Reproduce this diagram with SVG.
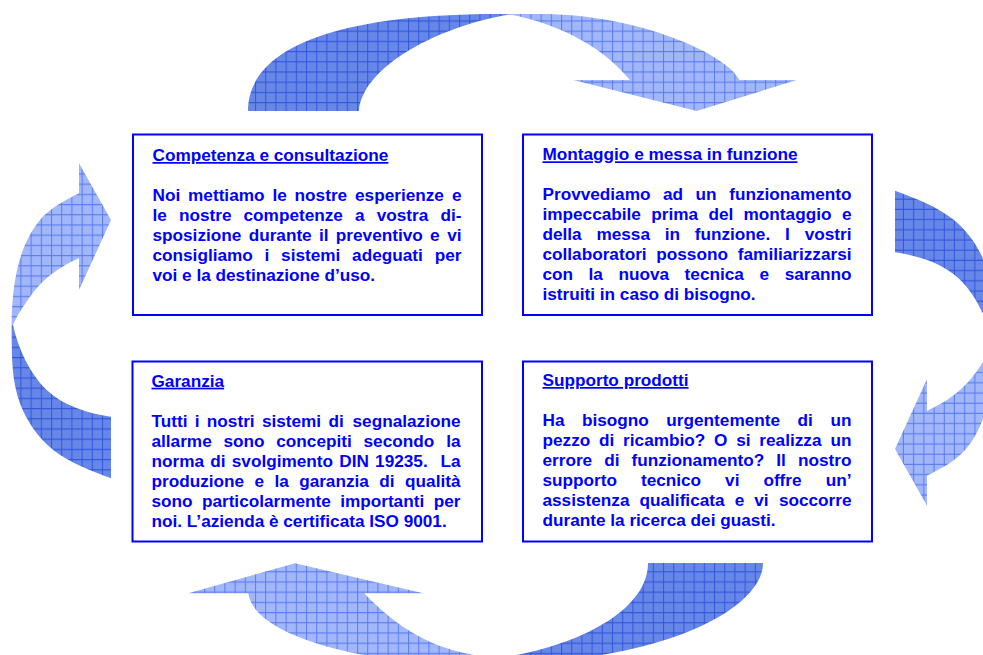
<svg xmlns="http://www.w3.org/2000/svg" width="983" height="655" viewBox="0 0 983 655">
<defs>
<pattern id="pd" width="10.2" height="10.2" patternUnits="userSpaceOnUse">
<rect width="10.2" height="10.2" fill="#6686e8"/>
<path d="M0 0.5H10.2M0.5 0V10.2" stroke="#3358dc" stroke-width="1.1"/>
</pattern>
<pattern id="pl" width="10.2" height="10.2" patternUnits="userSpaceOnUse">
<rect width="10.2" height="10.2" fill="#a2b7f9"/>
<path d="M0 0.5H10.2M0.5 0V10.2" stroke="#5b7df2" stroke-width="1.1"/>
</pattern>
<style>
.box{fill:#fff;stroke:#0000ff;stroke-width:2}
.tx{font-family:"Liberation Sans",Arial,sans-serif;font-weight:bold;font-size:17.2px;fill:#0000ff}
.ti{text-decoration:underline}
.r{text-anchor:end}
.d{fill:url(#pd)}
.l{fill:url(#pl)}
</style>
</defs>

<g id="connectors">
<g id="arrow-top">
<path class="d" d="M248,111 C248,48 336,14 499,14 L512,14 C430,28 362,70 359,111 Z"/>
<path class="l" d="M505,14 L540,14 C640,14 728,55 739.3,80 L796.7,80 L696.7,111 L573.3,80 L630,80 C605,50 565,25 508,14 Z"/>
</g>
<g id="arrow-left">
<path class="d" d="M111,478.3 C91.3,470.9 69.8,463 53.3,450 C38.3,438.3 26.7,421.1 20,403.3 C12,381.8 11.7,358 11.7,335 L11.7,325 L13,325 C18,348 29.4,373.4 46.7,390 C63.3,405.9 88.2,413.5 111,416.7 Z"/>
<path class="l" d="M11.7,325 C11.7,289 17,247.7 40,220 C50.2,207.7 64.8,200.8 79,193.3 L79,163.3 L111,220 L79,290 L79,258.3 C59.7,266.5 42,279.5 30,296.7 C24,305.3 16,317 13,325 Z"/>
</g>
<g id="arrow-right" transform="rotate(180 503 334.5)">
<path class="d" d="M111,478.3 C91.3,470.9 69.8,463 53.3,450 C38.3,438.3 26.7,421.1 20,403.3 C12,381.8 11.7,358 11.7,335 L11.7,325 L13,325 C18,348 29.4,373.4 46.7,390 C63.3,405.9 88.2,413.5 111,416.7 Z"/>
<path class="l" d="M11.7,325 C11.7,289 17,247.7 40,220 C50.2,207.7 64.8,200.8 79,193.3 L79,163.3 L111,220 L79,290 L79,258.3 C59.7,266.5 42,279.5 30,296.7 C24,305.3 16,317 13,325 Z"/>
</g>
<g id="arrow-bottom">
<path class="d" d="M648,563 L763,563 C763,605 680,650 560,660 L500,668 L505,657 C580,645 648,610 648,563 Z"/>
<path class="l" d="M188.3,593.3 L295,563.3 L423.3,593.3 L364.3,593.3 C392,622 425,648 480,656 L500,668 L480,668 C320,660 252,625 248.3,593.3 Z"/>
</g>
</g>

<g id="node-competenza">
<rect class="box" x="133" y="134.5" width="349" height="180.5"/>
<text class="tx ti" x="152.5" y="161">Competenza e consultazione</text>
<text class="tx" x="152.5" y="200.8" style="word-spacing:3.12px">Noi mettiamo le nostre esperienze</text>
<text class="tx r" x="461.5" y="200.8">e</text>
<text class="tx" x="152.5" y="220.9" style="word-spacing:7.32px">le nostre competenze a vostra</text>
<text class="tx r" x="461.5" y="220.9">di-</text>
<text class="tx" x="152.5" y="241" style="word-spacing:2.54px">sposizione durante il preventivo e</text>
<text class="tx r" x="461.5" y="241">vi</text>
<text class="tx" x="152.5" y="261.1" style="word-spacing:7px">consigliamo i sistemi adeguati</text>
<text class="tx r" x="461.5" y="261.1">per</text>
<text class="tx" x="152.5" y="281.2">voi e la destinazione d’uso.</text>
</g>

<g id="node-montaggio">
<rect class="box" x="523" y="134.5" width="349" height="180.5"/>
<text class="tx ti" x="542.5" y="160.3">Montaggio e messa in funzione</text>
<text class="tx" x="542.5" y="199.6" style="word-spacing:7.75px">Provvediamo ad un</text>
<text class="tx r" x="851.5" y="199.6">funzionamento</text>
<text class="tx" x="542.5" y="219.7" style="word-spacing:5.57px">impeccabile prima del montaggio</text>
<text class="tx r" x="851.5" y="219.7">e</text>
<text class="tx" x="542.5" y="239.8" style="word-spacing:10px">della messa in funzione. I</text>
<text class="tx r" x="851.5" y="239.8">vostri</text>
<text class="tx" x="542.5" y="259.9">collaboratori</text>
<text class="tx" x="656.3" y="259.9">possono</text>
<text class="tx r" x="851.5" y="259.9">familiarizzarsi</text>
<text class="tx" x="542.5" y="280" style="word-spacing:10.76px">con la nuova tecnica e</text>
<text class="tx r" x="851.5" y="280">saranno</text>
<text class="tx" x="542.5" y="300.1">istruiti in caso di bisogno.</text>
</g>

<g id="node-garanzia">
<rect class="box" x="132.5" y="361.5" width="349.5" height="180"/>
<text class="tx ti" x="151.5" y="386.7">Garanzia</text>
<text class="tx" x="151.5" y="426.7" style="word-spacing:2.54px">Tutti i nostri sistemi di</text>
<text class="tx r" x="460.5" y="426.7">segnalazione</text>
<text class="tx" x="151.5" y="446.8" style="word-spacing:7px">allarme sono concepiti secondo</text>
<text class="tx r" x="460.5" y="446.8">la</text>
<text class="tx" x="151.5" y="466.9" style="word-spacing:1.47px">norma di svolgimento DIN 19235.</text>
<text class="tx r" x="460.5" y="466.9">La</text>
<text class="tx" x="151.5" y="487" style="word-spacing:5.6px">produzione e la garanzia di</text>
<text class="tx r" x="460.5" y="487">qualità</text>
<text class="tx" x="151.5" y="507.1" style="word-spacing:4.55px">sono particolarmente importanti</text>
<text class="tx r" x="460.5" y="507.1">per</text>
<text class="tx" x="151.5" y="527.2">noi. L’azienda è certificata ISO 9001.</text>
</g>

<g id="node-supporto">
<rect class="box" x="523" y="361.5" width="349" height="180"/>
<text class="tx ti" x="542.5" y="386">Supporto prodotti</text>
<text class="tx" x="542.5" y="425.5" style="word-spacing:12.75px">Ha bisogno urgentemente di</text>
<text class="tx r" x="851.5" y="425.5">un</text>
<text class="tx" x="542.5" y="445.6" style="word-spacing:4.02px">pezzo di ricambio? O si realizza</text>
<text class="tx r" x="851.5" y="445.6">un</text>
<text class="tx" x="542.5" y="465.7" style="word-spacing:7.25px">errore di funzionamento? Il</text>
<text class="tx r" x="851.5" y="465.7">nostro</text>
<text class="tx" x="542.5" y="485.8" style="word-spacing:19.2px">supporto tecnico vi offre</text>
<text class="tx r" x="851.5" y="485.8">un’</text>
<text class="tx" x="542.5" y="505.9" style="word-spacing:5.32px">assistenza qualificata e vi</text>
<text class="tx r" x="851.5" y="505.9">soccorre</text>
<text class="tx" x="542.5" y="526">durante la ricerca dei guasti.</text>
</g>
</svg>
